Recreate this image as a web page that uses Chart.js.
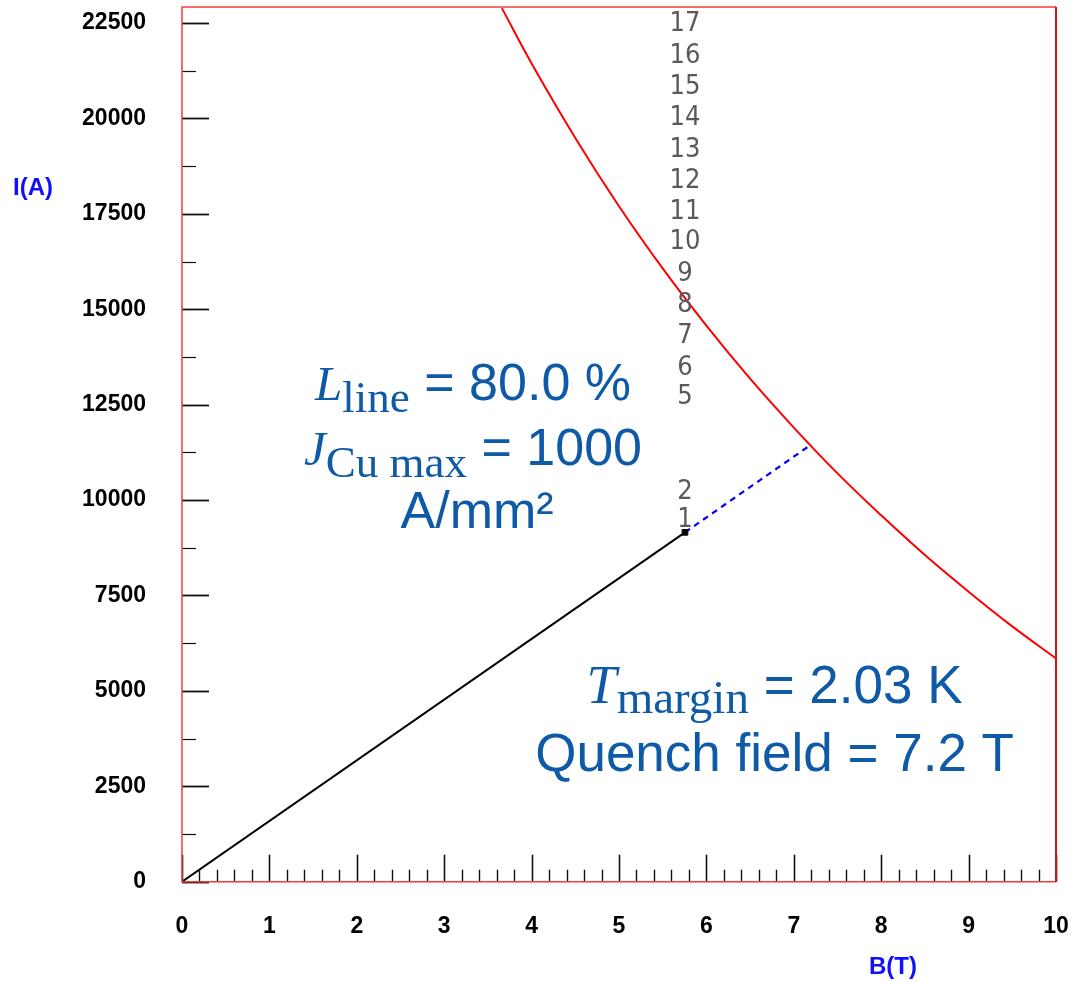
<!DOCTYPE html>
<html>
<head>
<meta charset="utf-8">
<title>Load line</title>
<script src="https://cdn.jsdelivr.net/npm/chart.js@4.4.1/dist/chart.umd.min.js"></script>
<style>
  html, body { margin: 0; padding: 0; background: #fff; }
  #wrap { width: 1071px; height: 982px; }
</style>
</head>
<body>
<div id="wrap"><canvas id="loadline-chart" width="1071" height="982"></canvas></div>
<script>
// critical current of the cable vs field
const curveB = [3.66, 4.0, 4.5, 5.0, 5.5, 6.0, 6.5, 7.0, 7.5, 8.0, 8.5, 9.0, 9.5, 10.0];
const curveI = [22890, 21440, 19490, 17700, 16070, 14570, 13180, 11900, 10700, 9600, 8560, 7600, 6690, 5850];

// load line up to the operating point, then extended to the quench point
const loadB = [0, 5.755];
const loadI = [0, 9155];
const quenchB = [5.755, 7.19];
const quenchI = [9155, 11440];

// step numbers printed above the operating point
const stepLabels = ['1', '2', '5', '6', '7', '8', '9', '10', '11', '12', '13', '14', '15', '16', '17'];
const stepI = [9470, 10200, 12690, 13470, 14290, 15120, 15930, 16750, 17560, 18370, 19180, 20020, 20830, 21640, 22480];
const stepB = 5.755;

// axes
const xTicks = [0, 1, 2, 3, 4, 5, 6, 7, 8, 9, 10];
const yTicks = [0, 2500, 5000, 7500, 10000, 12500, 15000, 17500, 20000, 22500];
const xMinor = 0.2;
const yMinor = 1250;
const xRange = [0, 10];
const yRange = [0, 22920];

const toXY = (xs, ys) => xs.map((x, i) => ({ x, y: ys[i] }));

const TEXT_BLUE = '#0f5aa6';
const AXIS_BLUE = '#1010ff';
const tickFont = { family: '"Liberation Sans", Arial, sans-serif', size: 23, weight: 'bold' };

// draws one line of mixed fonts, centred on cx
function drawRich(ctx, parts, cx, baseY) {
  let total = 0;
  parts.forEach(p => { ctx.font = p.font; p.w = ctx.measureText(p.t).width; total += p.w; });
  let x = cx - total / 2;
  parts.forEach(p => {
    ctx.font = p.font;
    ctx.fillText(p.t, x, baseY + (p.dy || 0));
    x += p.w;
  });
}

// fixed axis box, no extra room for overhanging labels
function fixBox(s, key, size) {
  s[key] = size;
  s.paddingTop = 0; s.paddingBottom = 0; s.paddingLeft = 0; s.paddingRight = 0;
}

const framePlugin = {
  id: 'frame',
  afterDatasetsDraw(chart) {
    const { ctx, chartArea: a, scales: { x, y } } = chart;
    ctx.save();

    // tick marks inside the frame
    ctx.strokeStyle = '#111';
    for (let v = xRange[0]; v <= xRange[1] + 1e-9; v += xMinor) {
      const major = Math.abs(v - Math.round(v)) < 1e-6;
      const px = Math.round(x.getPixelForValue(v)) + 0.5;
      ctx.lineWidth = major ? 1.6 : 1.4;
      ctx.beginPath();
      ctx.moveTo(px, a.bottom);
      ctx.lineTo(px, a.bottom - (major ? 27 : 12));
      ctx.stroke();
    }
    for (let v = yRange[0]; v <= yRange[1]; v += yMinor) {
      const major = v % 2500 === 0;
      const py = Math.round(y.getPixelForValue(v)) + 0.5;
      ctx.lineWidth = major ? 1.8 : 1.2;
      ctx.beginPath();
      ctx.moveTo(a.left, py);
      ctx.lineTo(a.left + (major ? 27 : 14), py);
      ctx.stroke();
    }

    // red frame
    ctx.lineWidth = 1.5;
    ctx.strokeStyle = '#f23c3c';
    ctx.beginPath();
    ctx.moveTo(a.right, a.top);
    ctx.lineTo(a.left, a.top);
    ctx.lineTo(a.left, a.bottom);
    ctx.lineTo(a.right, a.bottom);
    ctx.stroke();
    ctx.lineWidth = 2;
    ctx.strokeStyle = '#d41010';
    ctx.beginPath();
    ctx.moveTo(a.right, a.top);
    ctx.lineTo(a.right, a.bottom);
    ctx.stroke();

    // step numbers
    ctx.fillStyle = '#5a5a5a';
    ctx.font = '27px "Liberation Sans Narrow", "DejaVu Sans Condensed", sans-serif';
    ctx.textAlign = 'center';
    ctx.textBaseline = 'middle';
    stepLabels.forEach((t, i) => {
      ctx.fillText(t, x.getPixelForValue(stepB), y.getPixelForValue(stepI[i]));
    });

    // axis titles
    ctx.fillStyle = AXIS_BLUE;
    ctx.font = 'bold 24px "Liberation Sans", Arial, sans-serif';
    ctx.textAlign = 'left';
    ctx.fillText('I(A)', 13, 188);
    ctx.textAlign = 'center';
    ctx.fillText('B(T)', 893, 967);

    // annotations
    const w = a.right - a.left, h = a.bottom - a.top;
    ctx.fillStyle = TEXT_BLUE;
    ctx.textAlign = 'left';
    ctx.textBaseline = 'alphabetic';
    const sans1 = '52px "Liberation Sans", Arial, sans-serif';
    const sans2 = '53px "Liberation Sans", Arial, sans-serif';
    const ital1 = 'italic 49px "Liberation Serif", serif';
    const sub1 = '45px "Liberation Serif", serif';
    const ital2 = 'italic 54px "Liberation Serif", serif';
    const sub2 = '47px "Liberation Serif", serif';

    const c1 = a.left + 0.333 * w;
    drawRich(ctx, [
      { t: 'L', font: ital1 }, { t: 'line', font: sub1, dy: 12 }, { t: ' = 80.0 %', font: sans1 }
    ], c1, a.top + 0.449 * h);
    drawRich(ctx, [
      { t: 'J', font: ital1 }, { t: 'Cu max', font: sub1, dy: 12 }, { t: ' = 1000', font: sans1 }
    ], c1, a.top + 0.524 * h);
    drawRich(ctx, [{ t: 'A/mm²', font: sans1 }], c1 + 4, a.top + 0.596 * h);

    const c2 = a.left + 0.678 * w;
    drawRich(ctx, [
      { t: 'T', font: ital2 }, { t: 'margin', font: sub2, dy: 10 }, { t: ' = 2.03 K', font: sans2 }
    ], c2, a.top + 0.796 * h);
    drawRich(ctx, [{ t: 'Quench field = 7.2 T', font: sans2 }], c2, a.top + 0.874 * h);

    ctx.restore();
  }
};

new Chart(document.getElementById('loadline-chart'), {
  type: 'line',
  data: {
    datasets: [
      {
        label: 'op',
        type: 'scatter',
        order: 0,
        data: [{ x: loadB[1], y: loadI[1] }],
        pointStyle: 'rect',
        pointRadius: 4,
        backgroundColor: '#000',
        borderColor: '#000'
      },
      {
        label: 'Ic',
        order: 3,
        data: toXY(curveB, curveI),
        borderColor: '#ff0000',
        borderWidth: 2,
        pointRadius: 0,
        tension: 0.4
      },
      {
        label: 'load',
        order: 1,
        data: toXY(loadB, loadI),
        borderColor: '#000',
        borderWidth: 2,
        pointRadius: 0
      },
      {
        label: 'quench',
        order: 2,
        data: toXY(quenchB, quenchI),
        borderColor: '#0000ff',
        borderWidth: 2.2,
        borderDash: [6, 5],
        pointRadius: 0
      }
    ]
  },
  options: {
    responsive: false,
    animation: false,
    layout: { padding: { left: 0, right: 15, top: 7, bottom: 0 } },
    plugins: { legend: { display: false }, tooltip: { enabled: false } },
    scales: {
      x: {
        type: 'linear',
        min: xRange[0],
        max: xRange[1],
        afterFit: s => fixBox(s, 'height', 100.3),
        afterBuildTicks: s => { s.ticks = xTicks.map(v => ({ value: v })); },
        grid: { display: false, drawTicks: false },
        border: { display: false },
        ticks: { font: tickFont, color: '#000', padding: 31, maxRotation: 0, autoSkip: false, callback: v => String(v) }
      },
      y: {
        type: 'linear',
        min: yRange[0],
        max: yRange[1],
        afterFit: s => fixBox(s, 'width', 182),
        afterBuildTicks: s => { s.ticks = yTicks.map(v => ({ value: v })); },
        grid: { display: false, drawTicks: false },
        border: { display: false },
        ticks: { font: tickFont, color: '#000', padding: 36, autoSkip: false, callback: v => String(v) }
      }
    }
  },
  plugins: [framePlugin]
});
</script>
</body>
</html>
